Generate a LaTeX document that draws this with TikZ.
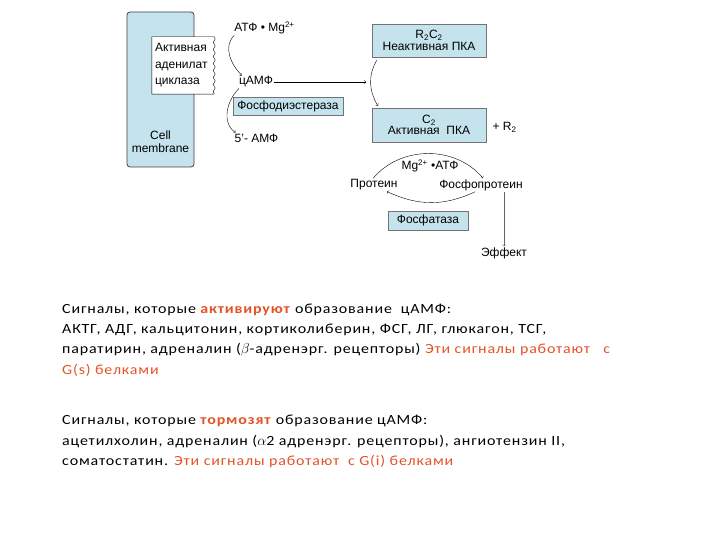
\documentclass[tikz,border=0pt]{standalone}
\usepackage{fontspec}
\setmainfont{Carlito}[LetterSpace=6, FakeStretch=1.14]
\newfontfamily\diagfont{Liberation Sans}
\usetikzlibrary{positioning, decorations.pathmorphing}
\definecolor{cellblue}{RGB}{196,227,236}
\definecolor{sigred}{RGB}{228,82,40}

\begin{document}
\begin{tikzpicture}[x=1pt, y=1pt, node distance=20pt,
    every node/.style={font=\diagfont\fontsize{12}{13}\selectfont, inner sep=1pt},
    bluebox/.style={rectangle, draw=black!55, fill=cellblue},
    signals/.style={anchor=north west, align=left, inner sep=0pt, font=\rmfamily\fontsize{14}{20.3}\selectfont}]
    \useasboundingbox (0,0) rectangle (720,-540);

    \node[rectangle, draw=black!75, fill=cellblue, rounded corners=3pt, line width=.8pt, minimum width=67pt, minimum height=155pt] (membrane) at (160.5,-89.5) {};
    \node[above of=membrane, xshift=22.5pt, yshift=4pt, fill=white, text width=56pt, inner sep=3pt, minimum height=57pt, align=left, font=\diagfont\fontsize{12}{16.5}\selectfont] (cyclase) {Активная\\аденилат\\циклаза};
    \draw[thin] (cyclase.south east) -- (cyclase.south west) -- (cyclase.north west) -- (cyclase.north east) decorate[decoration={snake, amplitude=1pt, segment length=7pt}] {-- (cyclase.south east)};
    \node[below of=membrane, yshift=-32pt, align=center] (cellmem) {Cell\\membrane};

    \node[right of=cyclase, xshift=53pt, yshift=-16.5pt] (camp) {цАМФ};
    \node[above of=camp, xshift=8.5pt, yshift=34pt] (atp) {АТФ • Mg\textsuperscript{2+}};
    \node[bluebox, below of=camp, xshift=32pt, yshift=-4pt, minimum width=110pt, minimum height=18pt] (pde) {Фосфодиэстераза};
    \node[below of=pde, xshift=-31.5pt, yshift=-12pt] (amp) {5’- АМФ};

    \node[bluebox, right of=atp, xshift=144.5pt, yshift=-12.5pt, minimum width=114pt, minimum height=33pt, align=center, font=\diagfont\fontsize{12}{11.5}\selectfont] (pkain) {R\textsubscript{2}C\textsubscript{2}\\Неактивная ПКА};
    \node[bluebox, below of=pkain, yshift=-64.5pt, minimum width=114pt, minimum height=34pt, align=center, font=\diagfont\fontsize{12}{11.5}\selectfont] (pkaact) {C\textsubscript{2}\\Активная\ \ ПКА};
    \node[right of=pkaact, xshift=55.5pt, yshift=-2pt] (rtwo) {+ R\textsubscript{2}};
    \coordinate[left of=pkaact, xshift=-43pt, yshift=43pt] (pkaturn);

    \node[below of=pkaact, xshift=1pt, yshift=-21pt] (mgatp) {Mg\textsuperscript{2+} •АТФ};
    \node[below of=mgatp, xshift=-56pt, yshift=1pt] (protein) {Протеин};
    \node[right of=protein, xshift=87pt] (phospho) {Фосфопротеин};
    \node[bluebox, below of=mgatp, xshift=-2pt, yshift=-34.5pt, minimum width=80pt, minimum height=19pt] (ptase) {Фосфатаза};
    \node[below of=phospho, xshift=23pt, yshift=-48pt] (effect) {Эффект};

    \path[->, thin]
    ([xshift=1pt]atp.south west) edge[out=225, in=135] ([xshift=4pt]camp.north west)
    ([xshift=1pt]camp.south west) edge[out=225, in=145] ([xshift=2pt]amp.north west)
    (camp.east) edge (pkaturn)
    ([xshift=5pt, yshift=-3pt]pkain.south west) edge[out=240, in=120] ([xshift=6pt, yshift=2pt]pkaact.north west)
    ([xshift=-1pt]protein.north) edge[out=50, in=130] ([xshift=2pt]phospho.north)
    ([xshift=-6pt]phospho.south) edge[out=-155, in=-25] ([xshift=13pt]protein.south)
    (phospho.south -| effect) edge[black!60] (effect.north);

    \node[signals] (sigon) at (62,-303.5) {Сигналы, которые \textcolor{sigred}{\textbf{активируют}} образование\ \ цАМФ:\\
    АКТГ, АДГ, кальцитонин, кортиколиберин, ФСГ, ЛГ, глюкагон, ТСГ,\\
    паратирин, адреналин ($\beta$-адренэрг. рецепторы) \textcolor{sigred}{Эти сигналы работают\ \ \ с}\\
    \textcolor{sigred}{G(s) белками}};
    \node[signals] (sigoff) at (62,-415) {Сигналы, которые \textcolor{sigred}{\textbf{тормозят}} образование цАМФ:\\
    ацетилхолин, адреналин ($\alpha$2 адренэрг. рецепторы), ангиотензин II,\\
    соматостатин. \textcolor{sigred}{Эти сигналы работают\ \ с G(i) белками}};
\end{tikzpicture}
\end{document}
